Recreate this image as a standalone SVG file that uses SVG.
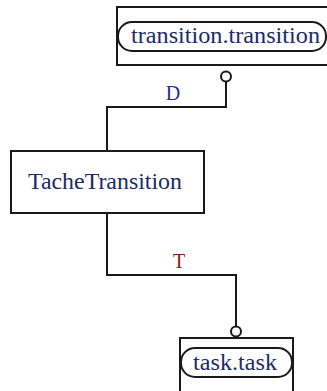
<svg xmlns="http://www.w3.org/2000/svg" width="327" height="391" viewBox="0 0 327 391">
<style>
.box{fill:#fff;stroke:#1a1a1a;stroke-width:2}
.pill{fill:#fff;stroke:#1a1a1a;stroke-width:2}
.ln{fill:none;stroke:#1a1a1a;stroke-width:2}
.circ{fill:#fff;stroke:#1a1a1a;stroke-width:2}
.t{font-family:'Liberation Serif','Times New Roman','DejaVu Serif',serif;font-size:24px;fill:#1c2b6a}
.lbl{font-family:'Liberation Serif','Times New Roman','DejaVu Serif',serif;font-size:20px;text-anchor:middle}
</style>
<rect width="327" height="391" fill="#fff"/>
<g id="connectors">
<path class="ln" d="M107,151 V107 H226 V82"/>
<circle class="circ" cx="226" cy="76.5" r="5"/>
<text class="lbl" x="173" y="100" fill="#2a2a8a">D</text>
<path class="ln" d="M107,213 V275 H236 V326"/>
<circle class="circ" cx="236" cy="331.5" r="5"/>
<text class="lbl" x="179" y="268" fill="#8a1a0a">T</text>
</g>
<g id="transition">
<rect class="box" x="117" y="7" width="220" height="58"/>
<rect class="pill" x="118" y="22" width="208" height="29" rx="14" ry="14"/>
<text class="t" x="131" y="43" textLength="189" lengthAdjust="spacingAndGlyphs">transition.transition</text>
</g>
<g id="TacheTransition">
<rect class="box" x="11" y="151" width="193" height="62"/>
<text class="t" x="28" y="189" textLength="154" lengthAdjust="spacingAndGlyphs">TacheTransition</text>
</g>
<g id="task">
<rect class="box" x="180" y="338" width="113" height="60"/>
<rect class="pill" x="181" y="348" width="111" height="29" rx="14" ry="14"/>
<text class="t" x="193" y="370" textLength="84" lengthAdjust="spacingAndGlyphs">task.task</text>
</g>
</svg>
